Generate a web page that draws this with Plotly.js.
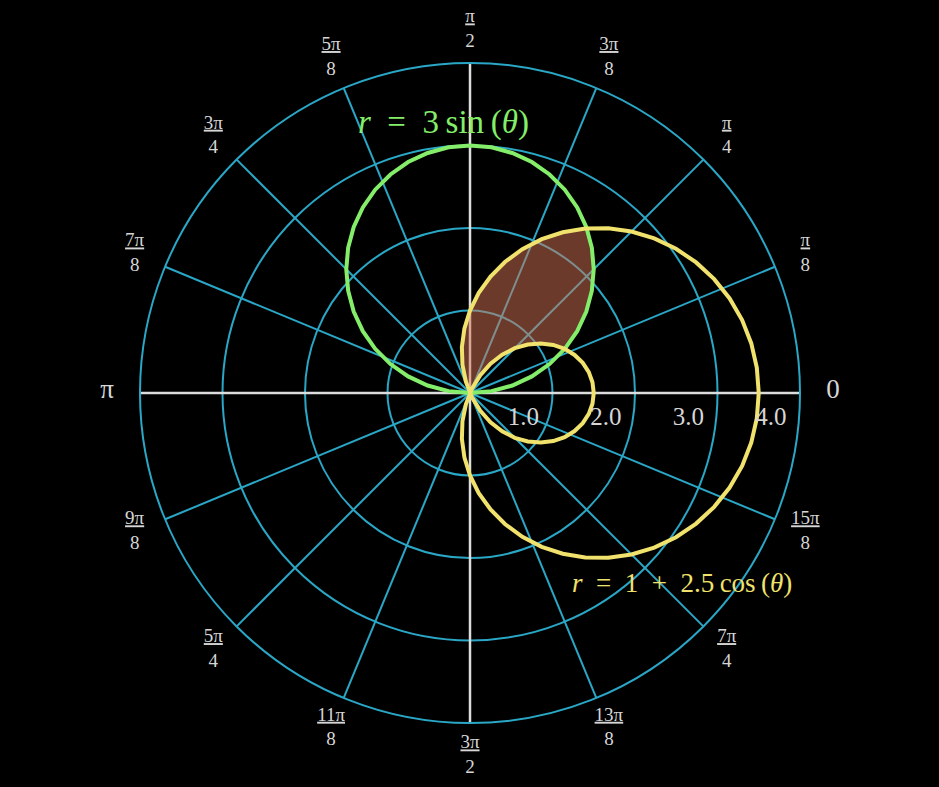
<!DOCTYPE html>
<html>
<head>
<meta charset="utf-8">
<script src="https://cdn.plot.ly/plotly-3.0.1.min.js"></script>
<style>html,body{margin:0;padding:0;background:#000;}#chart{width:939px;height:787px;}</style>
</head>
<body>
<div id="chart"></div>
<script>
// ---- data ----
const thetaStepDeg = 5;

// r = 3 sin(theta), theta = 0..180 deg every 5 deg
const circleR = [0, 0.261, 0.521, 0.776, 1.026, 1.268, 1.5, 1.721, 1.928, 2.121, 2.298, 2.457, 2.598, 2.719, 2.819, 2.898, 2.954, 2.989, 3.0,
  2.989, 2.954, 2.898, 2.819, 2.719, 2.598, 2.457, 2.298, 2.121, 1.928, 1.721, 1.5, 1.268, 1.026, 0.776, 0.521, 0.261, 0];

// r = 1 + 2.5 cos(theta), theta = 0..360 deg every 5 deg (signed r)
const limaconR = [3.5, 3.490, 3.462, 3.415, 3.349, 3.266, 3.165, 3.048, 2.915, 2.768, 2.607, 2.434, 2.25, 2.057, 1.855, 1.647, 1.434, 1.218, 1.0,
  0.782, 0.566, 0.353, 0.145, -0.057, -0.25, -0.434, -0.607, -0.768, -0.915, -1.048, -1.165, -1.266, -1.349, -1.415, -1.462, -1.490, -1.5,
  -1.490, -1.462, -1.415, -1.349, -1.266, -1.165, -1.048, -0.915, -0.768, -0.607, -0.434, -0.25, -0.057, 0.145, 0.353, 0.566, 0.782, 1.0,
  1.218, 1.434, 1.647, 1.855, 2.057, 2.25, 2.434, 2.607, 2.768, 2.915, 3.048, 3.165, 3.266, 3.349, 3.415, 3.462, 3.490, 3.5];

// shaded region: inside circle and outer loop, outside inner loop
const fillTheta = [113.58, 110, 105, 100, 95, 90, 85, 80, 75, 70, 65, 60, 55, 54.65, 50, 45, 40, 35, 30, 25, 30, 35, 40, 45, 50, 55, 60, 65, 66.42];
const fillR =     [0, 0.145, 0.353, 0.566, 0.782, 1.0, 1.218, 1.434, 1.647, 1.855, 2.057, 2.25, 2.434, 2.447, 2.298, 2.121, 1.928, 1.721, 1.5, 1.267, 1.165, 1.048, 0.915, 0.768, 0.607, 0.434, 0.25, 0.057, 0];

const radialRange = [0, 4];
const radialTicks = [1, 2, 3, 4];
const radialTickText = ['1.0', '2.0', '3.0', '4.0'];

const angleTicks = [0, 22.5, 45, 67.5, 90, 112.5, 135, 157.5, 180, 202.5, 225, 247.5, 270, 292.5, 315, 337.5];
const big = s => '<span style="font-size:27px">' + s + '</span>';
const frac = (n, d) => '<u>' + n + '</u><br>' + d;
const angleTickText = [big('0'), frac('π','8'), frac('π','4'), frac('3π','8'), frac('π','2'), frac('5π','8'), frac('3π','4'), frac('7π','8'),
  big('π'), frac('9π','8'), frac('5π','4'), frac('11π','8'), frac('3π','2'), frac('13π','8'), frac('7π','4'), frac('15π','8')];

const circleLabel = '<i>r</i>\u2002=\u20023\u2009sin\u2009(<i>θ</i>)';
const limaconLabel = '<i>r</i>\u2002=\u20021\u2002+\u20022.5\u2009cos\u2009(<i>θ</i>)';

// ---- styles ----
const BLUE = '#2aa7c6', GREEN = '#84ee6b', YELLOW = '#f0e26c', WHITE = '#dcdcdc', LABEL = '#d6d6d6';
const FONT = 'Liberation Serif, DejaVu Serif, serif';

const circleTheta = circleR.map((_, i) => i * thetaStepDeg);
const limTheta = [], limR = [];
limaconR.forEach((r, i) => {
  const t = i * thetaStepDeg;
  if (r < 0) { limTheta.push((t + 180) % 360); limR.push(-r); }
  else { limTheta.push(t); limR.push(r); }
});
const rMax = radialRange[1];

// geometry of the plot (pixels)
const W = 939, H = 787, CX = 470, CY = 393, R_PX = 330, R2_PX = 368;
const labelRange = [0, rMax * R2_PX / R_PX];
const angleLabelR = rMax * 1.1;

const traces = [
  { type: 'scatterpolar', mode: 'lines', r: [rMax, rMax, null, rMax, rMax], theta: [0, 180, null, 90, 270],
    line: { color: WHITE, width: 2.5 }, hoverinfo: 'skip', showlegend: false },
  { type: 'scatterpolar', mode: 'lines', r: fillR, theta: fillTheta, fill: 'toself',
    fillcolor: 'rgba(214,116,84,0.5)', line: { width: 0, color: 'rgba(0,0,0,0)' }, hoverinfo: 'skip', showlegend: false },
  { type: 'scatterpolar', mode: 'lines', r: circleR, theta: circleTheta,
    line: { color: GREEN, width: 4 }, hoverinfo: 'skip', showlegend: false },
  { type: 'scatterpolar', mode: 'lines', r: limR, theta: limTheta,
    line: { color: YELLOW, width: 4 }, hoverinfo: 'skip', showlegend: false },
  { type: 'scatterpolar', mode: 'markers+text', r: radialTicks, theta: radialTicks.map(() => 0), text: radialTickText,
    marker: { size: 20, color: 'rgba(0,0,0,0)' },
    textposition: 'bottom left', textfont: { family: FONT, size: 25, color: LABEL }, hoverinfo: 'skip', showlegend: false },
  { type: 'scatterpolar', subplot: 'polar2', mode: 'text', r: angleTicks.map(() => angleLabelR), theta: angleTicks, text: angleTickText,
    textposition: 'middle center', cliponaxis: false, textfont: { family: FONT, size: 19, color: LABEL },
    hoverinfo: 'skip', showlegend: false }
];

const hiddenAxis = { showgrid: false, showline: false, showticklabels: false, ticks: '' };

const layout = {
  width: W, height: H,
  paper_bgcolor: '#000', plot_bgcolor: '#000',
  margin: { l: 0, r: 0, t: 0, b: 0 },
  showlegend: false, hovermode: false,
  polar: {
    bgcolor: '#000',
    domain: { x: [(CX - R_PX) / W, (CX + R_PX) / W], y: [(H - CY - R_PX) / H, (H - CY + R_PX) / H] },
    radialaxis: { range: radialRange, tickvals: radialTicks, showticklabels: false, ticks: '', showline: false,
      gridcolor: BLUE, gridwidth: 2 },
    angularaxis: { direction: 'counterclockwise', rotation: 0, tickmode: 'array', tickvals: angleTicks,
      showticklabels: false, ticks: '',
      gridcolor: BLUE, gridwidth: 2, showline: true, linecolor: BLUE, linewidth: 2 }
  },
  polar2: {
    bgcolor: 'rgba(0,0,0,0)',
    domain: { x: [(CX - R2_PX) / W, (CX + R2_PX) / W], y: [(H - CY - R2_PX) / H, (H - CY + R2_PX) / H] },
    radialaxis: Object.assign({ range: labelRange }, hiddenAxis),
    angularaxis: Object.assign({ direction: 'counterclockwise', rotation: 0 }, hiddenAxis)
  },
  annotations: [
    { xref: 'paper', yref: 'paper', x: 443 / W, y: 1 - 122 / H, text: circleLabel, showarrow: false,
      font: { family: FONT, size: 33, color: GREEN }, xanchor: 'center', yanchor: 'middle' },
    { xref: 'paper', yref: 'paper', x: 682 / W, y: 1 - 583 / H, text: limaconLabel, showarrow: false,
      font: { family: FONT, size: 27, color: YELLOW }, xanchor: 'center', yanchor: 'middle' }
  ]
};

Plotly.newPlot('chart', traces, layout, { staticPlot: true, displayModeBar: false });
</script>
</body>
</html>
